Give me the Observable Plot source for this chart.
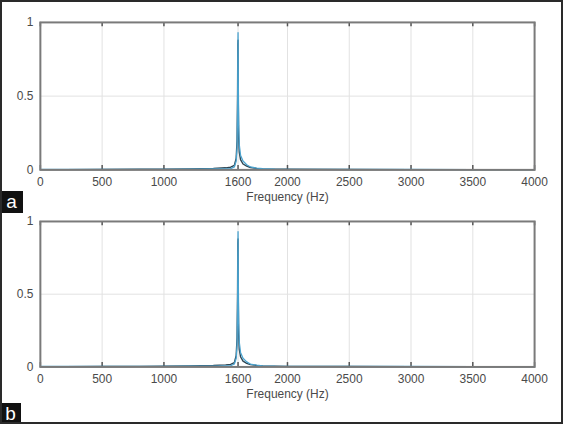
<!DOCTYPE html>
<html>
<head>
<meta charset="utf-8">
<script src="https://cdn.jsdelivr.net/npm/d3@7"></script>
<script src="https://cdn.jsdelivr.net/npm/@observablehq/plot@0.6"></script>
<style>
  html, body { margin: 0; padding: 0; background: #fff; }
  #wrap { position: relative; width: 563px; height: 424px; box-sizing: border-box; border: 2px solid #2a2a2a; overflow: hidden; background: #fff; font-family: Arial, "Liberation Sans", sans-serif; }
  .panel { position: absolute; left: -2px; }
  .tag { position: absolute; left: -2px; background: #111; color: #fff; font: 19px Arial, "Liberation Sans", sans-serif; text-align: center; }
</style>
</head>
<body>
<div id="wrap">
  <div id="pa" class="panel" style="top:-2px"></div>
  <div id="pb" class="panel" style="top:210px"></div>
  <div class="tag" style="top:189px;width:23px;height:22px;line-height:21px;">a</div>
  <div class="tag" style="top:401px;width:21px;height:22px;line-height:21px;">b</div>
</div>
<script>
// Frequencies (Hz) sampled along the spectrum
const freqs = [0, 200, 500, 800, 1000, 1200, 1400, 1500, 1540, 1570, 1585, 1592, 1596, 1598, 1600, 1602, 1605, 1610, 1620, 1640, 1670, 1700, 1750, 1800, 1900, 2000, 2500, 3000, 3500, 4000];
// Main (blue) spectrum magnitude
const blueVals = [0.003, 0.003, 0.003, 0.004, 0.004, 0.005, 0.006, 0.007, 0.008, 0.02, 0.06, 0.15, 0.4, 0.75, 0.93, 0.6, 0.3, 0.17, 0.1, 0.06, 0.035, 0.02, 0.012, 0.008, 0.005, 0.004, 0.003, 0.003, 0.002, 0.002];
// Second (dark) spectrum magnitude
const darkVals = [0.002, 0.002, 0.003, 0.004, 0.005, 0.006, 0.01, 0.014, 0.018, 0.03, 0.08, 0.2, 0.5, 0.85, 0.88, 0.45, 0.22, 0.12, 0.07, 0.04, 0.025, 0.016, 0.01, 0.007, 0.005, 0.004, 0.003, 0.002, 0.002, 0.002];
// Axis ticks
const xTicks = [0, 500, 1000, 1600, 2000, 2500, 3000, 3500, 4000];
const yTicks = [0, 0.5, 1];

const blue = freqs.map((f, i) => ({f, v: blueVals[i]}));
const dark = freqs.map((f, i) => ({f, v: darkVals[i]}));

function panel(marginTop, marginBottom) {
  return Plot.plot({
    width: 563,
    height: 212,
    marginLeft: 40,
    marginRight: 27,
    marginTop,
    marginBottom,
    style: {fontFamily: "Arial, 'Liberation Sans', sans-serif", fontSize: "12px", color: "#4a4a4a", background: "transparent"},
    x: {type: "linear", domain: [0, 4000]},
    y: {type: "linear", domain: [0, 1]},
    marks: [
      Plot.ruleX(xTicks, {x: d => d, y1: 0, y2: 1, stroke: "#e2e2e2", strokeWidth: 1}),
      Plot.ruleY(yTicks, {y: d => d, x1: 0, x2: 4000, stroke: "#e2e2e2", strokeWidth: 1}),
      Plot.ruleX(xTicks, {x: d => d, y1: 0, y2: 0.03, stroke: "#555", strokeWidth: 1.5}),
      Plot.ruleX(xTicks, {x: d => d, y1: 0.97, y2: 1, stroke: "#555", strokeWidth: 1.5}),
      Plot.line(dark, {x: "f", y: "v", stroke: "#2e4552", strokeWidth: 1.4}),
      Plot.line(blue, {x: "f", y: "v", stroke: "#4aa3cf", strokeWidth: 1.3}),
      Plot.frame({stroke: "#7a7a7a", strokeWidth: 2}),
      Plot.axisX(xTicks, {tickSize: 0, tickPadding: 8, fontSize: 12, tickFormat: d => String(d), label: "Frequency (Hz)", labelAnchor: "center", labelArrow: "none", labelOffset: 31, fill: "#4a4a4a"}),
      Plot.axisY(yTicks, {tickSize: 0, tickPadding: 7, fontSize: 12, tickFormat: d => String(d), label: null, fill: "#4a4a4a"})
    ]
  });
}

document.getElementById("pa").appendChild(panel(22, 42));
document.getElementById("pb").appendChild(panel(9, 57));
</script>
</body>
</html>
